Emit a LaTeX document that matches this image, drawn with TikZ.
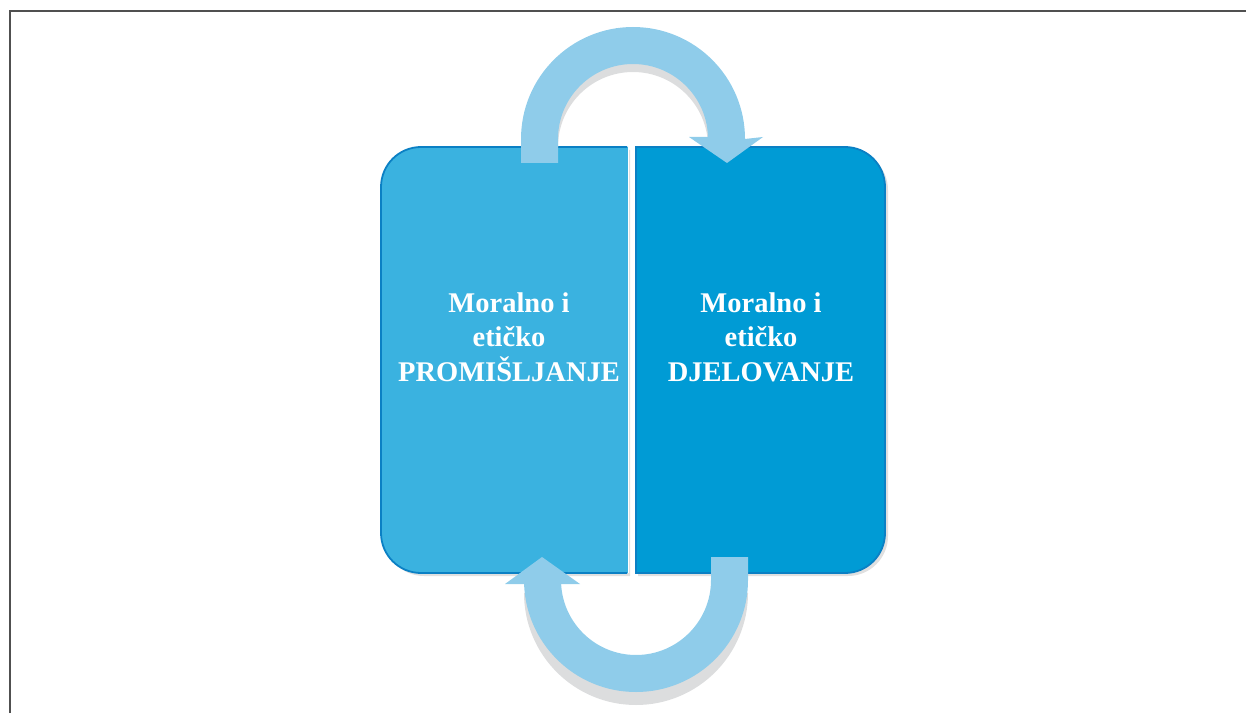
\documentclass[tikz,border=0pt]{standalone}
\usepackage{fontspec}
\setmainfont{Liberation Serif}
\definecolor{lboxfill}{HTML}{3AB2E0}
\definecolor{rboxfill}{HTML}{009BD5}
\definecolor{boxedge}{HTML}{0B80C4}
\definecolor{arrowfill}{HTML}{8FCCEA}
\definecolor{shadowgray}{HTML}{DCDDDE}
\definecolor{framegray}{HTML}{505050}
\tikzset{
  boxlabel/.style={text=white, font=\bfseries\fontsize{28.5}{34.5}\selectfont, align=center, inner sep=0pt},
  cyclearrow/.style={fill=arrowfill, draw=none},
  arrowshadow/.style={fill=shadowgray, draw=none},
  boxshadow/.style={fill=black!12, draw=none},
}
\begin{document}
\begin{tikzpicture}[x=1pt,y=1pt]
\useasboundingbox (0,0) rectangle (1246,713);
% frame
\draw[framegray, line width=2pt] (10,0) -- (10,702) -- (1246,702);

% box shadows
\fill[boxshadow] (630,563) -- (424,563) arc (90:180:40) -- (384,177) arc (180:270:40) -- (630,137) -- cycle;
\fill[boxshadow] (638,563) -- (848,563) arc (90:0:40) -- (888,177) arc (0:-90:40) -- (638,137) -- cycle;

% left box
\fill[lboxfill] (628,566) -- (421,566) arc (90:180:40) -- (381,180) arc (180:270:40) -- (628,140) -- cycle;
\draw[boxedge, line width=1.8pt] (627,566) -- (421,566) arc (90:180:40) -- (381,180) arc (180:270:40) -- (627,140);
\draw[white, line width=1.2pt] (628.5,566) -- (628.5,140);
% right box
\fill[rboxfill] (636,566) -- (845,566) arc (90:0:40) -- (885,180) arc (0:-90:40) -- (636,140) -- cycle;
\draw[boxedge, line width=1.8pt] (636,566) -- (845,566) arc (90:0:40) -- (885,180) arc (0:-90:40) -- (636,140) -- cycle;

\node[boxlabel] (think) at (509,376) {Moralno i\\etičko\\PROMIŠLJANJE};
\node[boxlabel] (act) at (761,376) {Moralno i\\etičko\\DJELOVANJE};

% top arrow shadow (arc part only)
\begin{scope}[yshift=-8pt]
\fill[arrowshadow] (521,574) arc (180:0:112) -- (708,574) arc (0:180:75) -- cycle;
\end{scope}
% top arrow
\fill[cyclearrow] (521,550) -- (521,574) arc (180:0:112) -- (763,576) -- (727,550) -- (689,576) -- (708,576) -- (708,574) arc (0:180:75) -- (558,550) -- cycle;

% bottom arrow shadow
\begin{scope}[yshift=-13pt]
\fill[arrowshadow] (748,133) arc (0:-180:112) -- (561,133) arc (-180:0:75) -- cycle;
\end{scope}
% bottom arrow
\fill[cyclearrow] (748,156) -- (748,133) arc (0:-180:112) -- (524,129) -- (505,129) -- (542,156) -- (580,129) -- (561,129) -- (561,133) arc (-180:0:75) -- (711,156) -- cycle;
\end{tikzpicture}
\end{document}
